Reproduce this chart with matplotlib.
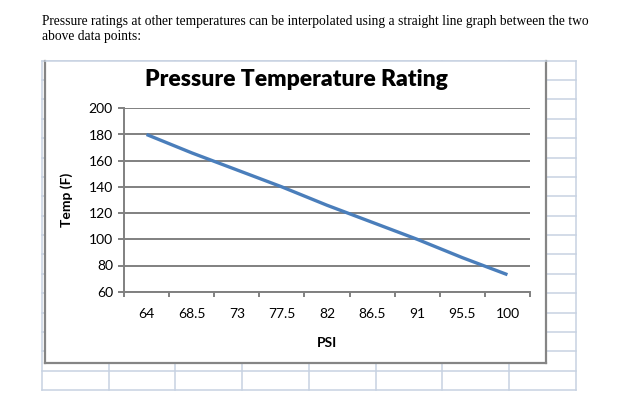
import matplotlib
matplotlib.use("Agg")
import matplotlib.pyplot as plt
import numpy as np
from matplotlib.lines import Line2D
from matplotlib.patches import Rectangle

# chart data (category axis, like the spreadsheet)
psi_labels = ["64", "68.5", "73", "77.5", "82", "86.5", "91", "95.5", "100"]
temp_f = [180, 166, 153, 140, 126, 113, 100, 86, 73]
y_ticks = [60, 80, 100, 120, 140, 160, 180, 200]

intro_lines = [
    "Pressure ratings at other temperatures can be interpolated using a straight line graph between the two",
    "above data points:",
]

W, H = 625, 408
fig = plt.figure(figsize=(W / 100, H / 100), dpi=100)

# background layer in pixel coords: the spreadsheet cells and the chart frame
bg = fig.add_axes([0, 0, 1, 1], zorder=0)
bg.set_xlim(0, W)
bg.set_ylim(H, 0)
bg.axis("off")

cell_blue = "#c7d2e2"
col_x = [41.7 + 66.8 * k for k in range(9)]
row_y = [60.7 + 19.37 * j for j in range(18)]
for x in col_x:
    bg.add_line(Line2D([x, x], [row_y[0], row_y[-1]], color=cell_blue, lw=1.1))
for y in row_y:
    bg.add_line(Line2D([col_x[0], col_x[-1]], [y, y], color=cell_blue, lw=1.1))

# chart box
bg.add_patch(Rectangle((45, 61), 501, 302, facecolor="white", edgecolor="none", zorder=2))
frame = "#858585"
bg.add_line(Line2D([45, 45], [61, 363], color=frame, lw=1.6, zorder=3))
bg.add_line(Line2D([546, 546], [61, 363], color=frame, lw=1.6, zorder=3))
bg.add_line(Line2D([45, 546], [363, 363], color=frame, lw=1.6, zorder=3))
bg.add_line(Line2D([45, 546], [61, 61], color=cell_blue, lw=1.1, zorder=3))

# paragraph above the chart
for i, line in enumerate(intro_lines):
    bg.text(42, 25 + 15 * i, line, family="Liberation Serif", fontsize=9.75,
            ha="left", va="baseline", color="black")

bg.text(296.5, 86.5, "Pressure Temperature Rating", family="Lato", fontweight="heavy",
        fontsize=16.5, ha="center", va="baseline", zorder=4)

# the chart itself
ax = fig.add_axes([124 / W, 1 - 291.7 / H, 406 / W, (291.7 - 108.3) / H], zorder=1)
ax.patch.set_alpha(0)

n = len(psi_labels)
xpos = np.arange(n) + 0.5
ax.plot(xpos, temp_f, color="#4a7ebb", lw=2.4, solid_capstyle="butt", zorder=3)

ax.set_xlim(0, n)
ax.set_ylim(60, 200)
ax.set_yticks(y_ticks)
ax.set_yticklabels([str(v) for v in y_ticks], family="Lato", fontsize=10)
ax.set_xticks(np.arange(n + 1))
ax.set_xticklabels([])
ax.set_xticks(xpos, minor=True)
ax.set_xticklabels(psi_labels, minor=True, family="Lato", fontsize=10)

grid_gray = "#808080"
ax.grid(axis="y", color=grid_gray, lw=1.4)
for s in ["top", "right"]:
    ax.spines[s].set_visible(False)
for s in ["left", "bottom"]:
    ax.spines[s].set_color(grid_gray)
    ax.spines[s].set_linewidth(1.4)
ax.tick_params(axis="y", direction="out", length=4, width=1.4, color=grid_gray, pad=4)
ax.tick_params(axis="x", which="major", direction="out", length=3.5, width=1.4, color=grid_gray)
ax.tick_params(axis="x", which="minor", length=0, pad=12)

ax.set_xlabel("PSI", family="Lato", fontweight="bold", fontsize=10, labelpad=12)
ax.set_ylabel("Temp (F)", family="Lato", fontweight="bold", fontsize=10, labelpad=11)

fig.savefig("out.png", dpi=100, facecolor="white")
